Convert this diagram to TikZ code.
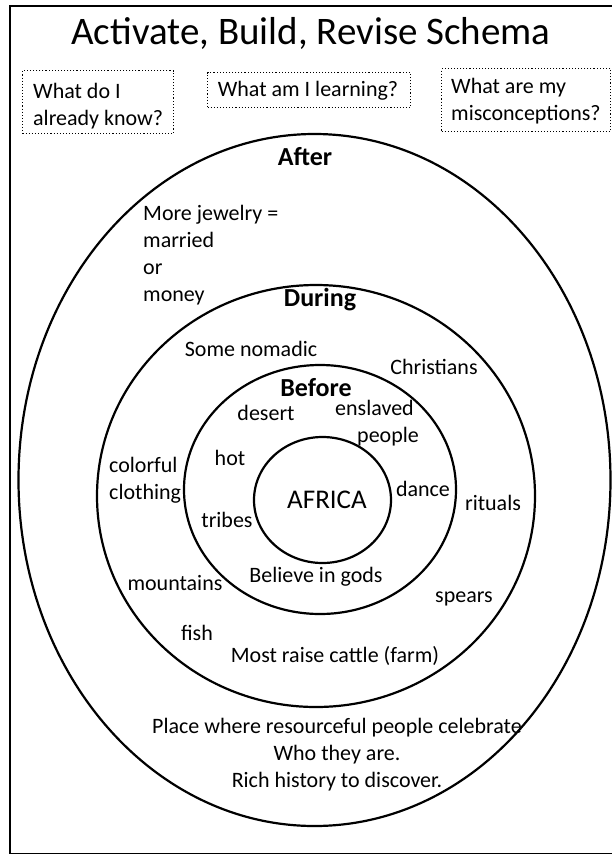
\documentclass[tikz,border=0pt]{standalone}
\usepackage{fontspec}
\setmainfont{Carlito}
\usetikzlibrary{shapes.geometric}
\begin{document}
\begin{tikzpicture}[x=1pt,y=-1pt,
  ring/.style={draw, ellipse, line width=2.2pt, inner sep=0pt},
  qbox/.style={draw, dotted, line width=1.1pt, inner sep=0pt},
  lbl/.style={inner sep=0pt, font=\fontsize{22}{27}\selectfont, align=left},
  hdr/.style={inner sep=0pt, font=\fontsize{26}{30}\selectfont\bfseries}]
\useasboundingbox (0,0) rectangle (612,854);
\node[draw, line width=1.8pt, minimum width=610pt, minimum height=848pt, anchor=north west, inner sep=0pt] (frame) at (9,5) {};
\node[inner sep=0pt, font=\fontsize{39}{44}\selectfont] (title) at (311,33) {Activate, Build, Revise Schema};
% question boxes
\node[qbox, minimum width=151pt, minimum height=63pt, anchor=north west] (q1) at (22,70) {};
\node[lbl, anchor=west] (q1t) at (33,106) {What do I\\already know?};
\node[qbox, minimum width=203pt, minimum height=35pt, anchor=north west] (q2) at (207,72) {};
\node[lbl] (q2t) at (308,91) {What am I learning?};
\node[qbox, minimum width=169pt, minimum height=63pt, anchor=north west] (q3) at (441,68) {};
\node[lbl, anchor=west] (q3t) at (451,101.5) {What are my\\misconceptions?};
% rings
\node[ring, minimum width=592pt, minimum height=692pt] (after) at (314.5,480) {};
\node[ring, minimum width=438pt, minimum height=422pt] (during) at (316,496) {};
\node[ring, minimum width=272pt, minimum height=249pt] (before) at (320,489.5) {};
\node[ring, minimum width=137pt, minimum height=126pt] (africa) at (322.5,500) {};
% headers
\node[hdr] (hafter) at (305,157) {After};
\node[hdr] (hduring) at (320,300) {During};
\node[hdr] (hbefore) at (316,388) {Before};
\node[inner sep=0pt, font=\fontsize{27}{30}\selectfont] (center) at (327,500) {AFRICA};
% after ring
\node[lbl, anchor=west] (jewel) at (143,255.5) {More jewelry =\\married\\or\\money};
\node[lbl, align=center] (place) at (337,754.5) {Place where resourceful people celebrate\\Who they are.\\Rich history to discover.};
% during ring
\node[lbl] (nomadic) at (251,349) {Some nomadic};
\node[lbl] (christ) at (434,367) {Christians};
\node[lbl, anchor=west] (colorful) at (109,480.5) {colorful\\clothing};
\node[lbl] (rituals) at (493,503) {rituals};
\node[lbl] (mount) at (175,583) {mountains};
\node[lbl] (spears) at (464,599) {spears};
\node[lbl] (fish) at (197,633) {fish};
\node[lbl] (cattle) at (335,656) {Most raise cattle (farm)};
% before ring
\node[lbl] (desert) at (266,413) {desert};
\node[lbl, anchor=west] (enslaved) at (335,423.5) {enslaved\\\hspace*{22pt}people};
\node[lbl] (hot) at (230,458) {hot};
\node[lbl] (dance) at (423,489) {dance};
\node[lbl] (tribes) at (227,520) {tribes};
\node[lbl] (gods) at (316,577) {Believe in gods};
\end{tikzpicture}
\end{document}
